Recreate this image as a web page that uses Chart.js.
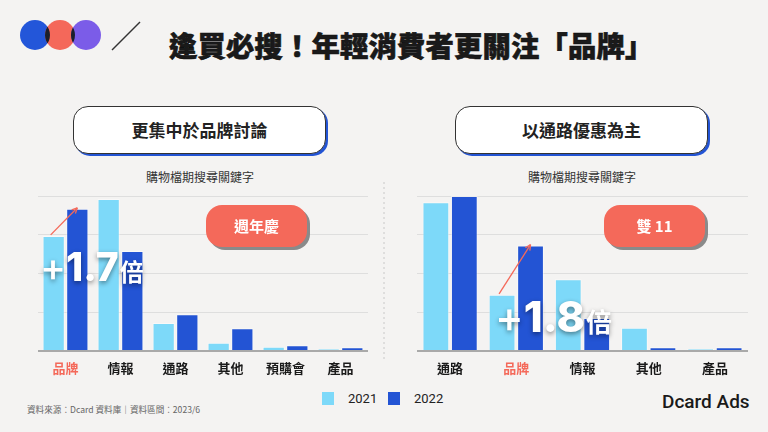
<!DOCTYPE html>
<html>
<head>
<meta charset="utf-8">
<script src="https://cdn.jsdelivr.net/npm/chart.js@4"></script>
<style>
  html, body { margin: 0; padding: 0; }
  body {
    width: 768px; height: 432px; overflow: hidden; position: relative;
    background: #f4f3f2;
    font-family: "Noto Sans CJK TC", "Noto Sans", sans-serif;
    color: #1a1a1a;
  }
  .abs { position: absolute; }
  .title {
    left: 169px; top: 27px; white-space: nowrap;
    font-size: 28.3px; font-weight: 900; line-height: 35px; letter-spacing: 0.2px;
    -webkit-text-stroke: 0.6px #111;
  }
  .head {
    width: 253px; height: 48px; top: 106px; box-sizing: border-box;
    background: #fff; border: 1.5px solid #333; border-radius: 15px;
    box-shadow: 2px 2px 0 #2354d4;
    font-size: 17px; font-weight: 700; line-height: 45px; text-align: center; color: #222;
  }
  .sub { width: 200px; top: 168px; font-size: 12px; text-align: center; color: #333; line-height: 18px; }
  .badge {
    width: 101px; height: 42px; top: 205px; border-radius: 16px;
    background: #f4695a; box-shadow: 3px 3px 0 #8a8a8a;
    color: #fff; font-size: 15px; font-weight: 700; line-height: 42px; text-align: center;
  }
  .big {
    color: #fff; font-family: Inter, "Noto Sans", sans-serif; font-weight: 800; line-height: 1;
    text-shadow: 0 2px 5px rgba(0,0,0,0.45); white-space: nowrap;
  }
  .big .p { font-weight: 500; }
  .big .x { font-family: "Noto Sans CJK TC", sans-serif; font-weight: 700; margin-left: 1px; }
  .legend { top: 390px; left: 322px; white-space: nowrap; font-family: Roboto, "Noto Sans", sans-serif; font-size: 13px; color: #222; line-height: 17px; }
  .legend span.sw { display: inline-block; width: 12px; height: 13px; vertical-align: -2px; margin: 0 14px 0 0; }
  .legend span.lb { display: inline-block; width: 40px; margin-right: 0; }
  .src { left: 27px; top: 403px; font-size: 8.6px; color: #666; white-space: nowrap; }
  .brand { left: 662px; top: 390px; font-family: Roboto, "Noto Sans", sans-serif; font-size: 19px; font-weight: 500; color: #1a1a1a; }
</style>
</head>
<body>
<svg class="abs" style="left:0;top:0" width="160" height="60">
  <defs>
    <clipPath id="cRed"><circle cx="60" cy="35" r="15"/></clipPath>
  </defs>
  <circle cx="35" cy="35" r="15" fill="#2356d9"/>
  <circle cx="60" cy="35" r="15" fill="#f4685a"/>
  <circle cx="86" cy="35" r="15" fill="#7b5ce8"/>
  <g clip-path="url(#cRed)">
    <circle cx="35" cy="35" r="15" fill="#1b1f2b"/>
    <circle cx="86" cy="35" r="15" fill="#1b1f2b"/>
  </g>
  <line x1="112" y1="50" x2="140" y2="22" stroke="#333" stroke-width="1.5"/>
</svg>
<div class="abs title">逢買必搜！年輕消費者更關注「品牌」</div>

<div class="abs head" style="left:73px;">更集中於品牌討論</div>
<div class="abs head" style="left:455px;">以通路優惠為主</div>
<div class="abs sub" style="left:100px;">購物檔期搜尋關鍵字</div>
<div class="abs sub" style="left:482px;">購物檔期搜尋關鍵字</div>

<svg class="abs" style="left:380px;top:180px" width="8" height="185"><line x1="4" y1="2" x2="4" y2="182" stroke="#c8c8c8" stroke-width="1" stroke-dasharray="2,3"/></svg>

<canvas id="left" class="abs" style="left:38px;top:186px;"></canvas>
<canvas id="right" class="abs" style="left:417px;top:186px;"></canvas>

<div class="abs badge" style="left:206px;">週年慶</div>
<div class="abs badge" style="left:604px;">雙 11</div>

<div class="abs big" style="left:40px;top:247px;font-size:39px;"><span class="p">+</span>1.7<span class="x" style="font-size:24px;">倍</span></div>
<div class="abs big" style="left:495px;top:295px;font-size:43px;"><span class="p">+</span>1.8<span class="x" style="font-size:26px;">倍</span></div>

<div class="abs legend" id="legend"></div>
<div class="abs src">資料來源：Dcard 資料庫｜資料區間：2023/6</div>
<div class="abs brand">Dcard Ads</div>

<script>
// search keyword volume (gridline step = 100)
var seriesNames = ['2021', '2022'];
var seriesColors = ['#7dd9f9', '#2354d4'];

var leftCats = ['品牌', '情報', '通路', '其他', '預購會', '產品'];
var left2021 = [297, 392, 72, 21, 11, 5];
var left2022 = [367, 258, 95, 59, 15, 10];

var rightCats = ['通路', '品牌', '情報', '其他', '產品'];
var right2021 = [384, 145, 185, 60, 5];
var right2022 = [400, 272, 85, 10, 10];

var yMax = 400, yStep = 100;
var highlight = '品牌';
var red = '#f4695a';

// red arrow from the 2021 bar top to the 2022 bar top of the highlighted category
var arrowPlugin = {
  id: 'growthArrow',
  afterDatasetsDraw: function (chart) {
    var i = chart.data.labels.indexOf(highlight);
    var a = chart.getDatasetMeta(0).data[i], b = chart.getDatasetMeta(1).data[i];
    var x1 = a.x - 3, y1 = a.y - 1, x2 = b.x, y2 = b.y - 1;
    var ctx = chart.ctx, ang = Math.atan2(y2 - y1, x2 - x1);
    ctx.save();
    ctx.strokeStyle = red; ctx.lineWidth = 1.3;
    ctx.beginPath(); ctx.moveTo(x1, y1); ctx.lineTo(x2, y2); ctx.stroke();
    ctx.beginPath();
    ctx.moveTo(x2, y2);
    ctx.lineTo(x2 - 6 * Math.cos(ang - 0.45), y2 - 6 * Math.sin(ang - 0.45));
    ctx.moveTo(x2, y2);
    ctx.lineTo(x2 - 6 * Math.cos(ang + 0.45), y2 - 6 * Math.sin(ang + 0.45));
    ctx.stroke();
    ctx.restore();
  }
};

function makeChart(id, cats, a, b, width) {
  var canvas = document.getElementById(id);
  canvas.width = width; canvas.height = 195;
  canvas.style.width = width + 'px'; canvas.style.height = '195px';
  return new Chart(canvas, {
    type: 'bar',
    data: {
      labels: cats,
      datasets: [a, b].map(function (d, k) {
        return {
          label: seriesNames[k], data: d,
          backgroundColor: seriesColors[k],
          borderColor: 'rgba(255,255,255,0.45)', borderWidth: 1,
          categoryPercentage: 0.86, barPercentage: 0.94
        };
      })
    },
    options: {
      responsive: false, animation: false,
      layout: { padding: { top: 10, left: 0, right: 0, bottom: 0 } },
      plugins: { legend: { display: false }, tooltip: { enabled: false } },
      scales: {
        x: {
          grid: { display: false, drawTicks: false },
          border: { display: false },
          afterFit: function (s) { s.height = 30; },
          ticks: {
            padding: 9,
            font: { family: '"Noto Sans CJK TC", sans-serif', size: 13, weight: 'bold' },
            color: function (c) { return cats[c.index] === highlight ? red : '#1a1a1a'; }
          }
        },
        y: {
          min: 0, max: yMax,
          afterFit: function (s) { s.width = 0; },
          border: { display: false },
          grid: {
            drawTicks: false,
            color: function (c) { return c.tick.value === 0 ? '#a9a9a9' : '#dedede'; },
            lineWidth: function (c) { return c.tick.value === 0 ? 2 : 1; }
          },
          ticks: { display: false, stepSize: yStep }
        }
      }
    },
    plugins: [arrowPlugin]
  });
}

makeChart('left', leftCats, left2021, left2022, 330);
makeChart('right', rightCats, right2021, right2022, 331);

var lg = document.getElementById('legend');
lg.innerHTML = seriesNames.map(function (n, k) {
  return '<span class="sw" style="background:' + seriesColors[k] + '"></span><span class="lb">' + n + '</span>';
}).join('');
</script>
</body>
</html>
